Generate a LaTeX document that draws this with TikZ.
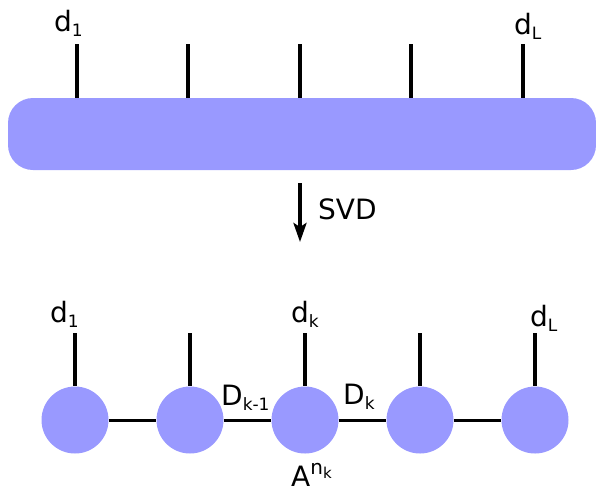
\documentclass[tikz,border=0pt]{standalone}
\usepackage{fontspec}
\setmainfont{DejaVu Sans}
\usetikzlibrary{arrows.meta}
\definecolor{blob}{HTML}{9999FF}
\newcommand{\mainsz}{\fontsize{28}{32}\selectfont}
\newcommand{\sbs}[1]{\raisebox{-5pt}{\fontsize{17}{17}\selectfont #1}}
\newcommand{\sps}[1]{\raisebox{12pt}{\fontsize{20}{20}\selectfont #1}}
\newcommand{\sbsb}[1]{\raisebox{-4pt}{\fontsize{15}{15}\selectfont #1}}
\begin{document}
\begin{tikzpicture}[x=1pt,y=-1pt,
  leg/.style={line width=3.5pt},
  bond/.style={line width=3pt},
  site/.style={circle, fill=blob, minimum size=67pt, inner sep=0pt},
  lab/.style={font=\mainsz, inner sep=0pt, anchor=base west}]
\useasboundingbox (0,0) rectangle (596,491);
% top tensor
\node[fill=blob, rounded corners=25pt, minimum width=588pt, minimum height=72pt, inner sep=0pt] (bar) at (302,134) {};
\foreach \i/\x in {1/77,2/188,3/300,4/411,5/523}{
  \coordinate (t\i) at (\x,44);
  \draw[leg] (t\i) -- (t\i |- bar.north);
}
\node[lab] (tl1) at (54,31) {d\sbs{1}};
\node[lab] (tlL) at (514,34) {d\sbs{L}};
% arrow
\coordinate (a0) at (300,183);
\coordinate (a1) at (300,242);
\draw[line width=3.5pt, -{Stealth[length=19pt,width=13pt,inset=4pt]}] (a0) -- (a1);
\node[lab] (svd) at (318,219) {SVD};
% MPS
\foreach \i/\x in {1/75,2/190,3/305,4/420,5/535}{
  \node[site] (s\i) at (\x,420) {};
  \coordinate (u\i) at (\x,333);
  \draw[leg] (u\i) -- (s\i.north);
}
\draw[bond] (s1) -- (s2);
\draw[bond] (s2) -- (s3);
\draw[bond] (s3) -- (s4);
\draw[bond] (s4) -- (s5);
\node[lab] (bl1) at (50,322) {d\sbs{1}};
\node[lab] (blk) at (291,322) {d\sbs{k}};
\node[lab] (blL) at (530,326) {d\sbs{L}};
\node[lab] (Dkm) at (221,405) {D\sbs{k-1}};
\node[lab] (Dk) at (343,404) {D\sbs{k}};
\node[lab] (Ank) at (291,486) {A\sps{n\sbsb{k}}};
\end{tikzpicture}
\end{document}
